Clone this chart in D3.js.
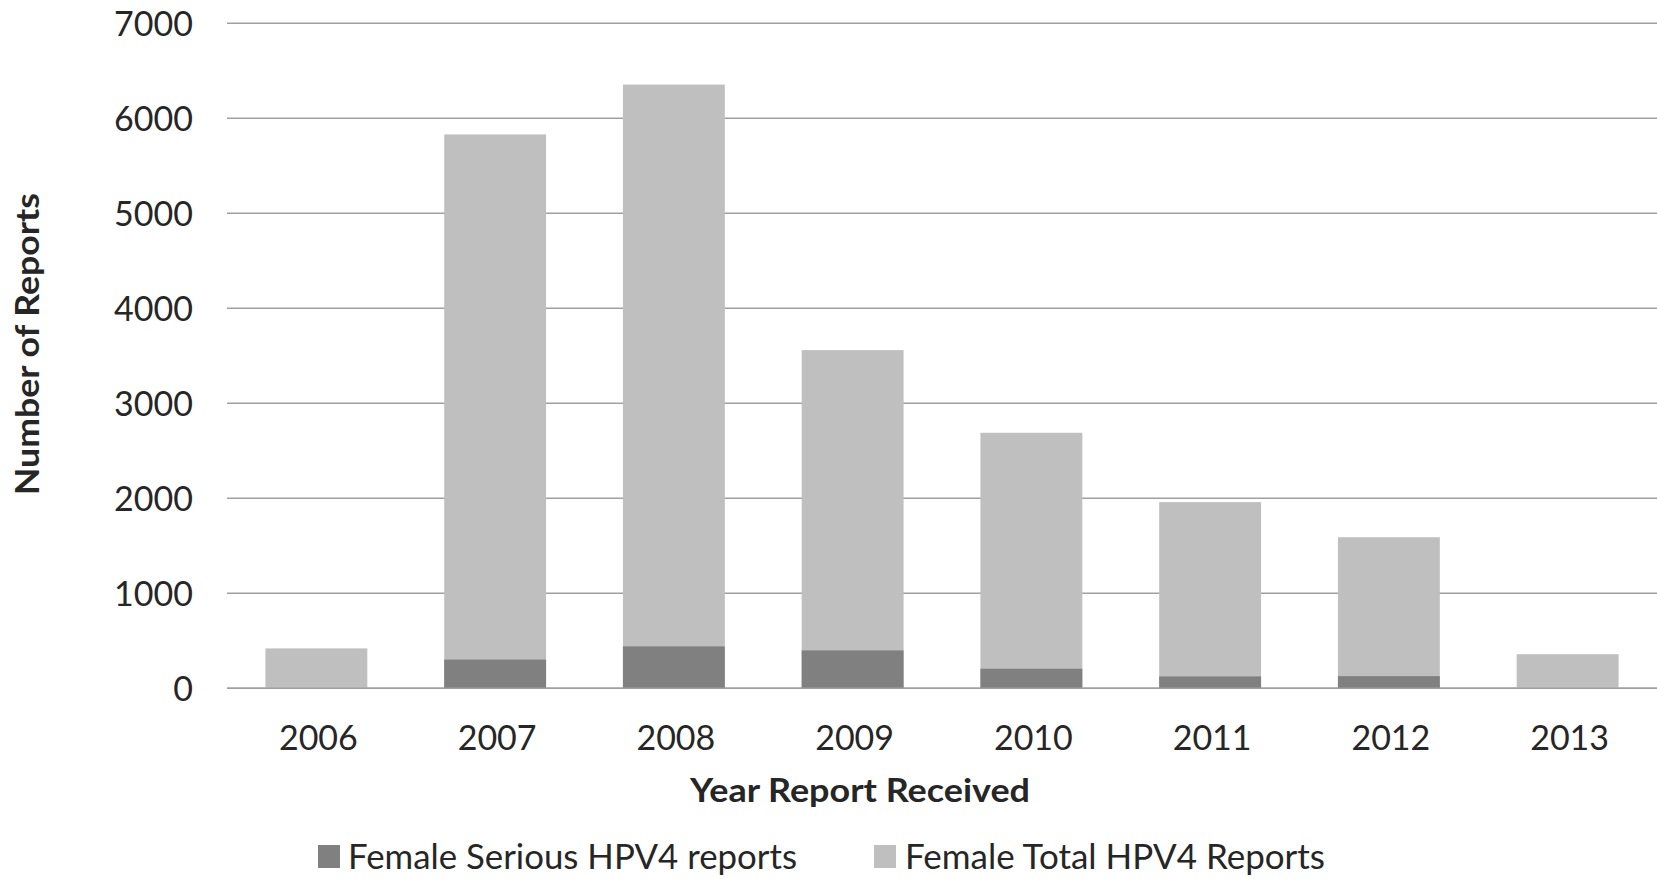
<!DOCTYPE html>
<html>
<head>
<meta charset="utf-8">
<script src="https://cdn.jsdelivr.net/npm/d3@7"></script>
<style>
  html, body { margin: 0; padding: 0; background: #fff; }
  svg { display: block; }
  text { font-family: Lato, "Open Sans", sans-serif; fill: #262626; }
</style>
</head>
<body>
<svg id="chart" width="1657" height="879"></svg>
<script>
// Female HPV4 reports by year received
const years = ["2006", "2007", "2008", "2009", "2010", "2011", "2012", "2013"];
const seriousReports = [0, 302, 441, 399, 206, 125, 128, 0];
const totalReports = [420, 5830, 6355, 3560, 2690, 1960, 1590, 359];
const yTicks = [0, 1000, 2000, 3000, 4000, 5000, 6000, 7000];
const seriesNames = ["Female Serious HPV4 reports", "Female Total HPV4 Reports"];
const seriesColors = ["#808080", "#bfbfbf"];

const svg = d3.select("#chart");
const W = 1657, H = 879;
const plot = { left: 227, right: 1657, top: 23.3, bottom: 688.3 };

svg.append("rect").attr("width", W).attr("height", H).attr("fill", "#fff");

const x = d3.scaleBand()
  .domain(years)
  .range([plot.left, plot.right])
  .paddingInner(0.43)
  .paddingOuter(0.215);

const y = d3.scaleLinear()
  .domain([0, 7000])
  .range([plot.bottom, plot.top]);

// horizontal gridlines
svg.append("g")
  .selectAll("line")
  .data(yTicks)
  .join("line")
  .attr("x1", plot.left)
  .attr("x2", plot.right)
  .attr("y1", d => y(d))
  .attr("y2", d => y(d))
  .attr("stroke", "#a0a0a0")
  .attr("stroke-width", 1.6);

// y tick labels
svg.append("g")
  .selectAll("text")
  .data(yTicks)
  .join("text")
  .attr("x", 193)
  .attr("y", d => y(d))
  .attr("dy", "0.36em")
  .attr("text-anchor", "end")
  .attr("font-size", 34)
  .text(d => d);

// total bars
svg.append("g")
  .selectAll("rect")
  .data(years)
  .join("rect")
  .attr("x", d => x(d))
  .attr("width", x.bandwidth())
  .attr("y", (d, i) => y(totalReports[i]))
  .attr("height", (d, i) => y(0) - y(totalReports[i]))
  .attr("fill", seriesColors[1]);

// serious bars drawn over the totals
svg.append("g")
  .selectAll("rect")
  .data(years)
  .join("rect")
  .attr("x", d => x(d))
  .attr("width", x.bandwidth())
  .attr("y", (d, i) => y(seriousReports[i]))
  .attr("height", (d, i) => y(0) - y(seriousReports[i]))
  .attr("fill", seriesColors[0]);

// baseline
svg.append("line")
  .attr("x1", plot.left).attr("x2", plot.right)
  .attr("y1", y(0)).attr("y2", y(0))
  .attr("stroke", "#a0a0a0").attr("stroke-width", 1.6);

// x tick labels
svg.append("g")
  .selectAll("text")
  .data(years)
  .join("text")
  .attr("x", d => x(d) + x.bandwidth() / 2 + 2)
  .attr("y", 750)
  .attr("text-anchor", "middle")
  .attr("font-size", 34)
  .text(d => d);

// axis titles
svg.append("text")
  .attr("x", 860)
  .attr("y", 802)
  .attr("text-anchor", "middle")
  .attr("font-size", 33)
  .attr("font-weight", "bold")
  .attr("textLength", 340)
  .attr("lengthAdjust", "spacingAndGlyphs")
  .text("Year Report Received");

svg.append("text")
  .attr("transform", "translate(39,344) rotate(-90)")
  .attr("text-anchor", "middle")
  .attr("font-size", 32)
  .attr("font-weight", "bold")
  .attr("textLength", 302)
  .attr("lengthAdjust", "spacingAndGlyphs")
  .text("Number of Reports");

// legend
const legendItems = [
  { name: seriesNames[0], color: seriesColors[0], sx: 318, tx: 348, tw: 449 },
  { name: seriesNames[1], color: seriesColors[1], sx: 874, tx: 905, tw: 420 }
];
const lg = svg.append("g").selectAll("g").data(legendItems).join("g");
lg.append("rect")
  .attr("x", d => d.sx)
  .attr("y", 845)
  .attr("width", 22)
  .attr("height", 23)
  .attr("fill", d => d.color);
lg.append("text")
  .attr("x", d => d.tx)
  .attr("y", 869)
  .attr("font-size", 35)
  .attr("textLength", d => d.tw)
  .attr("lengthAdjust", "spacingAndGlyphs")
  .text(d => d.name);
</script>
</body>
</html>
